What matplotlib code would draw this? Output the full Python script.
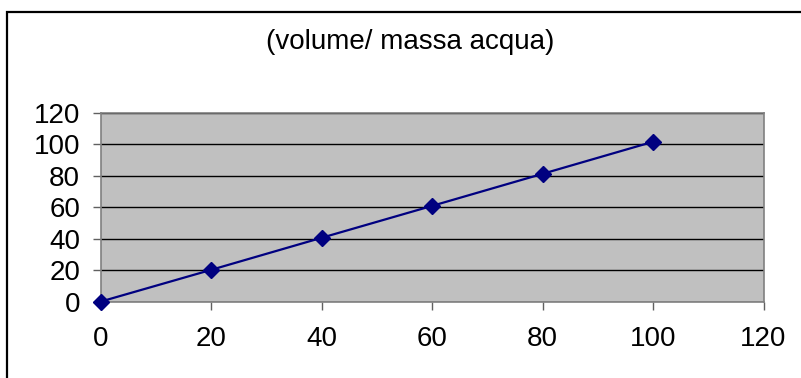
import matplotlib.pyplot as plt
from matplotlib.patches import Rectangle

# values
massa = [0, 20, 40, 60, 80, 100]
volume = [0, 20.2, 40.6, 60.9, 81.3, 101.7]
ticks = [0, 20, 40, 60, 80, 100, 120]
title = "(volume/ massa acqua)"

plt.rcParams["font.family"] = ["Liberation Sans", "DejaVu Sans"]

W, H = 801, 378
fig = plt.figure(figsize=(W / 100, H / 100), dpi=100)

# outer chart frame (right/bottom edges fall outside the image)
fig.patches.append(Rectangle((7 / W, -0.1), 1.2, 1 - 12 / H + 0.1, transform=fig.transFigure,
                             fill=False, edgecolor="black", linewidth=1.6))

ax = fig.add_axes([101 / W, 1 - 301.5 / H, (763.5 - 101) / W, (301.5 - 113) / H])
ax.set_facecolor("#c0c0c0")
ax.plot(massa, volume, color="#000080", linewidth=1.6, marker="D", markersize=8,
        zorder=3, clip_on=False)

ax.set_xlim(0, 120)
ax.set_ylim(0, 120)
ax.set_xticks(ticks)
ax.set_yticks(ticks)
ax.yaxis.grid(True, color="black", linewidth=1.0)
ax.set_axisbelow(True)
for side in ax.spines.values():
    side.set_color("#808080")
    side.set_linewidth(1.2)
ax.tick_params(axis="both", labelsize=20, length=6, width=1, color="#606060")
ax.tick_params(axis="y", pad=9)
ax.tick_params(axis="x", pad=12)

fig.text(410 / W, 1 - 42 / H, title, ha="center", va="center", fontsize=20)

fig.savefig("out.png", dpi=100)
